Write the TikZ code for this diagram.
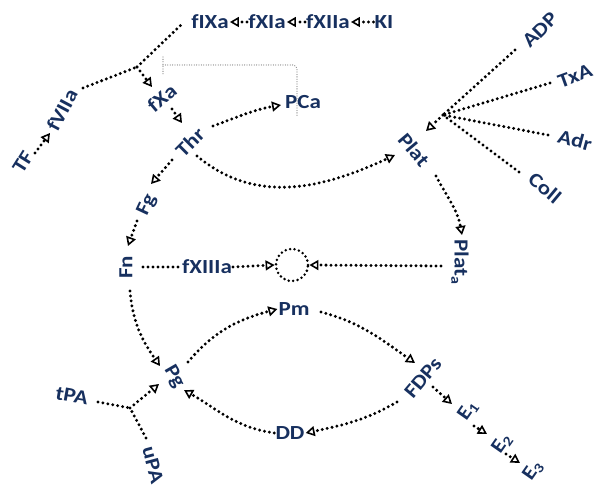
\documentclass[tikz,border=0pt]{standalone}
\usepackage{fontspec}
\setmainfont{Carlito}[BoldFeatures={FakeStretch=1.15}]
\usetikzlibrary{arrows.meta,calc}
\definecolor{navy}{HTML}{17305F}
\begin{document}
\begin{tikzpicture}[x=1pt,y=1pt,
 lbl/.style={font=\bfseries\fontsize{20}{20}\selectfont, text=navy, inner sep=1pt},
 dotl/.style={line width=3.3pt, dash pattern=on 0pt off 5pt, line cap=round},
 arr/.style={dotl, -{Triangle[open, length=9pt, width=10pt, line width=1.6pt]}},
 graydot/.style={black!45, line width=1.3pt, dash pattern=on 0pt off 2.4pt, line cap=round},
]
\useasboundingbox (0,0) rectangle (595,-486);
% nodes
\node[lbl, rotate=58] (tf) at (23,-162) {TF};
\node[lbl, rotate=62] (fvii) at (62,-110) {fVIIa};
\coordinate (ja) at (137,-67);
\node[lbl] (fix) at (210,-22) {fIXa};
\node[lbl] (fxi) at (267,-22) {fXIa};
\node[lbl] (fxii) at (328,-22) {fXIIa};
\node[lbl] (ki) at (384,-22) {KI};
\node[lbl, rotate=40] (fxa) at (162,-98) {fXa};
\node[lbl, rotate=45] (thr) at (190,-142) {Thr};
\node[lbl] (pca) at (303,-102) {PCa};
\node[lbl, rotate=65] (fg) at (147,-205) {Fg};
\node[lbl, rotate=90] (fn) at (126,-267) {Fn};
\node[lbl] (fxiii) at (207,-267) {fXIIIa};
\node[circle, minimum size=32pt, inner sep=0pt, draw, line width=2.8pt, dash pattern=on 0pt off 4.5pt, line cap=round] (clot) at (292,-265) {};
\node[lbl, rotate=-90] (plata) at (460,-262) {Plat\textsubscript{a}};
\node[lbl, rotate=-50] (plat) at (414,-150) {Plat};
\coordinate (jb) at (443,-115);
\node[lbl, rotate=45] (adp) at (540,-30) {ADP};
\node[lbl, rotate=20] (txa) at (575,-76) {TxA};
\node[lbl, rotate=-15] (adr) at (575,-140) {Adr};
\node[lbl, rotate=-40] (coll) at (545,-188) {Coll};
\node[lbl] (pm) at (294,-309) {Pm};
\node[lbl, rotate=-60] (pg) at (174,-377) {Pg};
\node[lbl, rotate=-10] (tpa) at (72,-396) {tPA};
\node[lbl, rotate=-75] (upa) at (153,-465) {uPA};
\coordinate (jc) at (130,-408);
\node[lbl] (dd) at (290,-433) {DD};
\node[lbl, rotate=50] (fdps) at (423,-378) {FDPs};
\node[lbl, rotate=55] (e1) at (468,-411) {E\textsubscript{1}};
\node[lbl, rotate=55] (e2) at (502,-444) {E\textsubscript{2}};
\node[lbl, rotate=55] (e3) at (533,-471) {E\textsubscript{3}};
% bracket
\coordinate (brktop) at (163,-57);
\coordinate (brkbot) at (163,-76);
\coordinate (brk) at (163,-65);
\draw[graydot] (brktop) -- (brkbot);
\draw[graydot, rounded corners=4pt] (brk) -| ($(pca)+(-6,-14)$);
% connectors
\draw[arr] ($(tf)+(12,9)$) -- ($(fvii)+(-12,-23)$);
\draw[dotl] ($(fvii)+(21,22)$) -- (ja);
\draw[dotl] (ja) -- ($(fix)+(-29,-3)$);
\draw[arr] (ja) -- ($(fxa)+(-10,11)$);
\draw[arr] ($(fxa)+(10,-11)$) -- ($(thr)+(-8,19)$);
\draw[arr] (fxi.west) -- (fix.east);
\draw[arr] (fxii.west) -- (fxi.east);
\draw[arr] (ki.west) -- (fxii.east);
\draw[arr] ($(thr)+(23,16)$) to[out=20,in=190] ($(pca)+(-22,-3)$);
\draw[arr] ($(thr)+(7,-14)$) to[out=-40,in=205] ($(plat)+(-19,-5)$);
\draw[arr] (jb) -- ($(plat)+(12,19)$);
\draw[dotl] ($(adp)+(-25,-20)$) -- (jb);
\draw[dotl] ($(txa)+(-25,-7)$) -- (jb);
\draw[dotl] ($(adr)+(-27,5)$) -- (jb);
\draw[dotl] ($(coll)+(-26,16)$) -- (jb);
\draw[arr] ($(plat)+(22,-26)$) to[out=-62,in=100] ($(plata)+(2,27)$);
\draw[arr] ($(plata)+(-19,-4)$) -- (clot.east);
\draw[dotl] ($(fn)+(17,0)$) -- (fxiii.west);
\draw[arr] (fxiii.east) -- (clot.west);
\draw[arr] ($(thr)+(-18,-18)$) -- ($(fg)+(4,21)$);
\draw[arr] ($(fg)+(-10,-16)$) -- ($(fn)+(2,21)$);
\draw[arr] ($(fn)+(4,-24)$) to[out=-85,in=125] ($(pg)+(-14,11)$);
\draw[arr] ($(pg)+(14,15)$) to[out=50,in=195] (pm.west);
\draw[arr] ($(pm)+(27,-3)$) to[out=-15,in=145] ($(fdps)+(-8,15)$);
\draw[arr] ($(fdps)+(-26,-24)$) to[out=-150,in=12] (dd.east);
\draw[arr] (dd.west) to[out=172,in=-30] ($(pg)+(10,-13)$);
\draw[dotl] ($(tpa)+(26,-6)$) -- (jc);
\draw[dotl] ($(upa)+(-7,27)$) -- (jc);
\draw[arr] (jc) -- ($(pg)+(-15,-7)$);
\draw[arr] ($(fdps)+(10,-9)$) -- ($(e1)+(-16,7)$);
\draw[arr] ($(e1)+(6,-15)$) -- ($(e2)+(-15,10)$);
\draw[arr] ($(e2)+(4,-10)$) -- ($(e3)+(-13,8)$);
\end{tikzpicture}
\end{document}
